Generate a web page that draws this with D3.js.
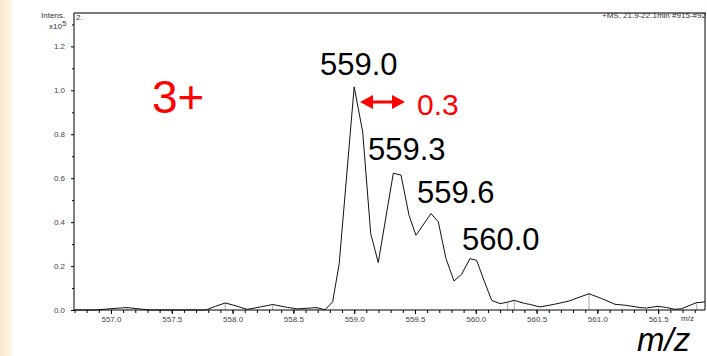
<!DOCTYPE html>
<html>
<head>
<meta charset="utf-8">
<script src="https://cdn.jsdelivr.net/npm/d3@7"></script>
<style>
  html, body { margin: 0; padding: 0; background: #fff; }
  svg { display: block; }
  text { font-family: "Liberation Sans", Arial, sans-serif; }
</style>
</head>
<body>
<svg id="chart" width="707" height="356"></svg>
<script>
// Mass spectrum (+MS, 21.9-22.1 min), m/z vs intensity (x10^5)
const mzValues = [
  556.70, 556.88, 557.00, 557.13, 557.25, 557.32, 557.78, 557.86, 557.94, 558.02,
  558.12, 558.22, 558.33, 558.45, 558.53, 558.62, 558.69, 558.76, 558.823, 558.877,
  559.00, 559.07, 559.136, 559.198, 559.322, 559.385, 559.451, 559.508, 559.632, 559.692,
  559.755, 559.821, 559.884, 559.952, 560.007, 560.067, 560.131, 560.199, 560.262, 560.317,
  560.40, 560.44, 560.528, 560.637, 560.761, 560.931, 561.035, 561.145, 561.241, 561.35,
  561.405, 561.50, 561.57, 561.638, 561.693, 561.817, 561.844, 561.885
];
const intensityValues = [
  0.000, 0.000, 0.006, 0.011, 0.004, 0.000, 0.000, 0.017, 0.032, 0.020,
  0.003, 0.013, 0.025, 0.012, 0.005, 0.008, 0.011, 0.001, 0.037, 0.211,
  1.016, 0.811, 0.348, 0.216, 0.623, 0.614, 0.431, 0.340, 0.439, 0.401,
  0.234, 0.132, 0.163, 0.234, 0.226, 0.135, 0.044, 0.029, 0.036, 0.044,
  0.030, 0.026, 0.014, 0.025, 0.040, 0.074, 0.052, 0.026, 0.021, 0.011,
  0.009, 0.017, 0.011, 0.003, 0.006, 0.034, 0.034, 0.038
];
// centroid markers drawn as thin grey sticks
const peakMarks = [557.13, 557.94, 558.33, 558.69, 560.262, 560.317, 560.931, 561.50, 561.817];

const xTicks = [557.0, 557.5, 558.0, 558.5, 559.0, 559.5, 560.0, 560.5, 561.0, 561.5];
const xMinorTicks = d3.range(556.7, 561.89, 0.1).map(v => +v.toFixed(1));
const yTicks = [0.0, 0.2, 0.4, 0.6, 0.8, 1.0, 1.2];
const yMinorTicks = [0.1, 0.3, 0.5, 0.7, 0.9, 1.1, 1.3];

const isotopeLabels = ["559.0", "559.3", "559.6", "560.0"];
const chargeLabel = "3+";
const spacingLabel = "0.3";

const svg = d3.select("#chart");

// cream margin on the left edge
const defs = svg.append("defs");
const grad = defs.append("linearGradient").attr("id", "cream").attr("x1", "0").attr("x2", "1");
grad.append("stop").attr("offset", "0%").attr("stop-color", "#f9e9cb");
grad.append("stop").attr("offset", "100%").attr("stop-color", "#fdf4e4");
svg.append("rect").attr("x", 0).attr("y", 0).attr("width", 12).attr("height", 356).attr("fill", "url(#cream)");

const plotLeft = 74, plotRight = 705, plotTop = 13, plotBottom = 310;
const x = d3.scaleLinear().domain([556.696, 561.885]).range([plotLeft, plotRight]);
const y = d3.scaleLinear().domain([0, 1.352]).range([plotBottom, plotTop]);

const data = mzValues.map((m, i) => ({ mz: m, v: intensityValues[i] }));

// frame: grey top rule, black right edge
svg.append("line").attr("x1", plotLeft).attr("x2", plotRight + 1).attr("y1", plotTop).attr("y2", plotTop)
  .attr("stroke", "#7a7a7a").attr("stroke-width", 2);
svg.append("line").attr("x1", plotRight).attr("x2", plotRight).attr("y1", plotTop).attr("y2", plotBottom)
  .attr("stroke", "#000").attr("stroke-width", 1);

// centroid sticks
const interp = mz => {
  const i = d3.bisector(d => d.mz).left(data, mz);
  const a = data[Math.max(0, i - 1)], b = data[Math.min(data.length - 1, i)];
  const t = b.mz === a.mz ? 0 : (mz - a.mz) / (b.mz - a.mz);
  return a.v + t * (b.v - a.v);
};
svg.append("g").selectAll("line").data(peakMarks).join("line")
  .attr("x1", d => x(d)).attr("x2", d => x(d))
  .attr("y1", plotBottom).attr("y2", d => y(interp(d)))
  .attr("stroke", "#aaa").attr("stroke-width", 1);

// spectrum trace
svg.append("path").datum(data)
  .attr("fill", "none").attr("stroke", "#111").attr("stroke-width", 1)
  .attr("d", d3.line().x(d => x(d.mz)).y(d => y(d.v)));

// axes
const axisFont = g => g.selectAll("text").attr("font-size", 8).attr("fill", "#444")
  .attr("font-family", '"Liberation Sans", Arial, sans-serif');

const yAxis = svg.append("g").attr("transform", `translate(${plotLeft},0)`)
  .call(d3.axisLeft(y).tickValues(yTicks).tickSize(3).tickPadding(6).tickFormat(d3.format(".1f")));
yAxis.select(".domain").attr("d", `M0,${plotTop}V${plotBottom}`);
axisFont(yAxis);
svg.append("g").attr("transform", `translate(${plotLeft},0)`)
  .call(d3.axisLeft(y).tickValues(yMinorTicks).tickSize(2).tickFormat(""))
  .select(".domain").remove();

const xAxis = svg.append("g").attr("transform", `translate(0,${plotBottom})`)
  .call(d3.axisBottom(x).tickValues(xTicks).tickSize(4).tickPadding(2).tickFormat(d3.format(".1f")));
xAxis.select(".domain").attr("d", `M${plotLeft},0H${plotRight}`);
axisFont(xAxis);
svg.append("g").attr("transform", `translate(0,${plotBottom})`)
  .call(d3.axisBottom(x).tickValues(xMinorTicks).tickSize(3).tickFormat(""))
  .select(".domain").remove();

// axis captions
const small = (t, px, py, anchor) => svg.append("text").text(t).attr("x", px).attr("y", py)
  .attr("font-size", 8).attr("fill", "#333").attr("text-anchor", anchor || "start");
small("Intens.", 65, 18, "end");
small("x10", 62, 29, "end");
small("5", 62, 26);
small("2.", 76, 20);
small("+MS, 21.9-22.1min #915-#92", 602, 18);
small("m/z", 681, 321);

// isotope annotations
const big = (t, px, py, size, color, italic) => svg.append("text").text(t)
  .attr("x", px).attr("y", py).attr("font-size", size).attr("fill", color)
  .attr("font-style", italic ? "italic" : "normal");
big(isotopeLabels[0], 320, 75, 31, "#000");
big(isotopeLabels[1], 368, 160, 31, "#000");
big(isotopeLabels[2], 417, 203, 31, "#000");
big(isotopeLabels[3], 462, 250, 31, "#000");
big(chargeLabel, 152, 113, 46, "#ff0000");
big(spacingLabel, 417, 115, 30, "#ff0000");
big("m/z", 637, 351, 33, "#000", true);

// double-headed arrow for the isotope spacing
const ay = 102, ax1 = 360, ax2 = 405, ah = 13, aw = 7;
svg.append("line").attr("x1", ax1 + ah - 1).attr("x2", ax2 - ah + 1).attr("y1", ay).attr("y2", ay)
  .attr("stroke", "#ff0000").attr("stroke-width", 3);
svg.append("path").attr("fill", "#ff0000")
  .attr("d", `M${ax1},${ay}L${ax1 + ah},${ay - aw}L${ax1 + ah},${ay + aw}Z`);
svg.append("path").attr("fill", "#ff0000")
  .attr("d", `M${ax2},${ay}L${ax2 - ah},${ay - aw}L${ax2 - ah},${ay + aw}Z`);
</script>
</body>
</html>
